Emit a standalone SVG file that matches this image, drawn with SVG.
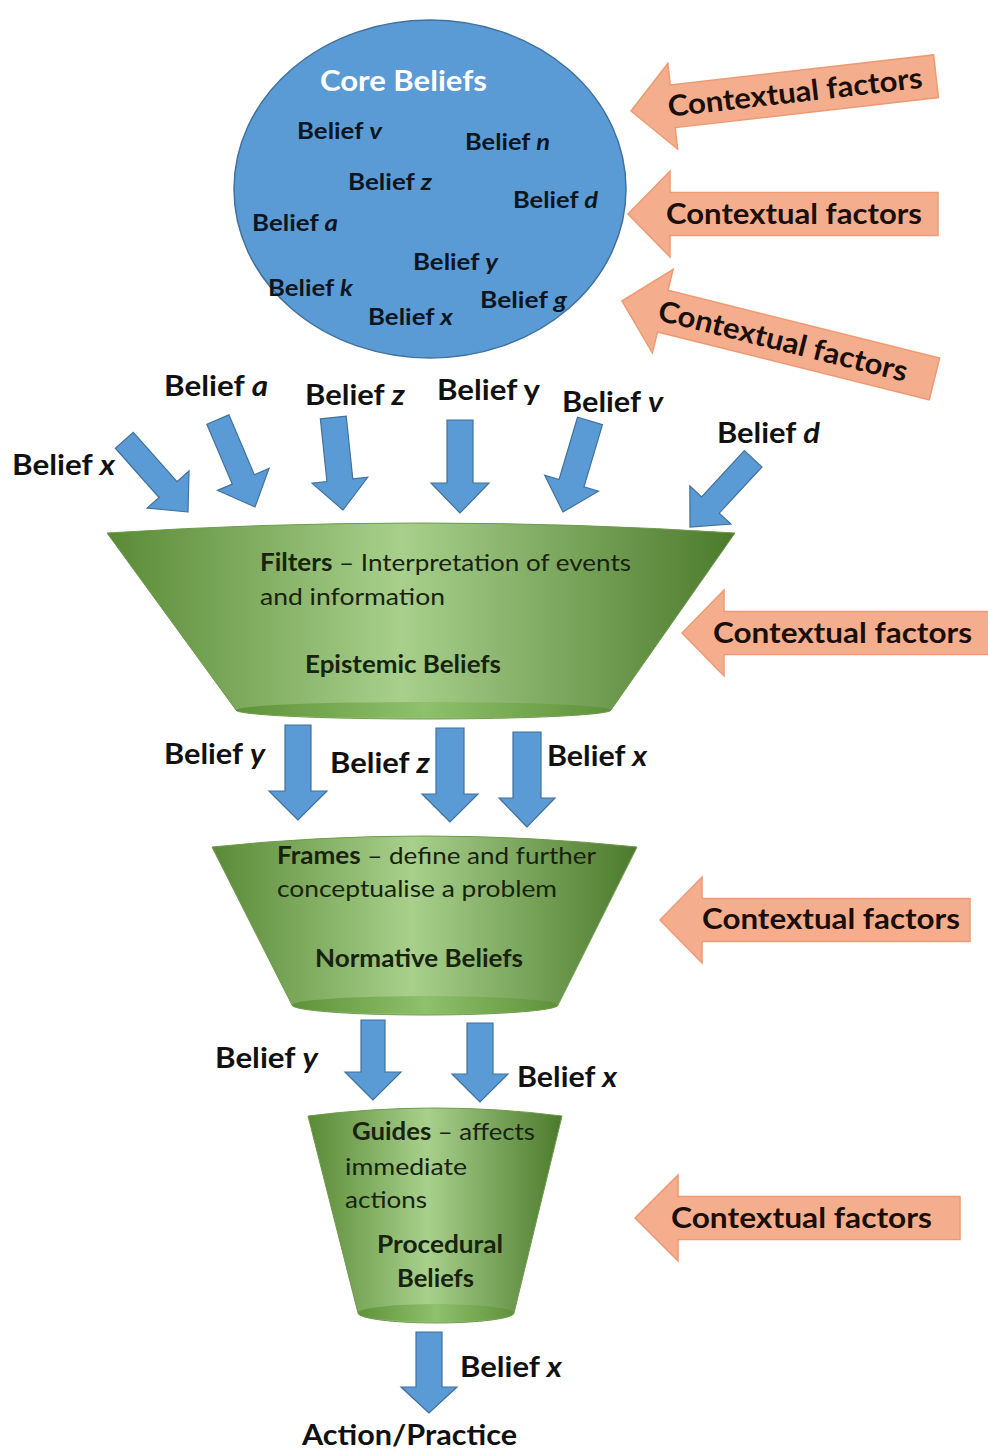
<svg xmlns="http://www.w3.org/2000/svg" width="988" height="1450" viewBox="0 0 988 1450">
<style>
text{font-family:Lato,"Open Sans","Liberation Sans",sans-serif;fill:#111;}
.cb{font-size:23px;font-weight:bold;fill:#0d1620;}
.ol{font-size:28px;font-weight:bold;}
.cf{font-size:29px;font-weight:bold;fill:#1a0f0a;}
.ft{font-size:24px;fill:#18230f;}
.b{font-weight:bold;}
.i{font-style:italic;}
.ba{fill:#5B9BD5;stroke:#41719C;stroke-width:1.2;stroke-linejoin:miter;}
.ca{fill:#F5AE8D;stroke:#EE9A73;stroke-width:1.5;}
.fun{fill:url(#g);stroke:#6f9a4c;stroke-width:1;}
.bot{fill:url(#gb);}
</style>
<defs>
<linearGradient id="g" x1="0" y1="0" x2="1" y2="0">
<stop offset="0" stop-color="#5A8A36"/>
<stop offset="0.47" stop-color="#A8D08C"/>
<stop offset="1" stop-color="#4C7A2C"/>
</linearGradient>
<linearGradient id="gb" x1="0" y1="0" x2="1" y2="0">
<stop offset="0" stop-color="#5E9239"/>
<stop offset="0.5" stop-color="#8FC06C"/>
<stop offset="1" stop-color="#5E9239"/>
</linearGradient>
</defs>
<rect width="988" height="1450" fill="#fff"/>

<g id="core-beliefs">
<ellipse cx="430" cy="189" rx="196" ry="169" fill="#5B9BD5" stroke="#41719C" stroke-width="1.5"/>
<text x="320" y="91" textLength="167" lengthAdjust="spacingAndGlyphs" style="font-size:28px;font-weight:bold;fill:#fff">Core Beliefs</text>
<text class="cb" x="297" y="139" textLength="85" lengthAdjust="spacingAndGlyphs">Belief <tspan class="i">v</tspan></text>
<text class="cb" x="465" y="150" textLength="85" lengthAdjust="spacingAndGlyphs">Belief <tspan class="i">n</tspan></text>
<text class="cb" x="348" y="190" textLength="84" lengthAdjust="spacingAndGlyphs">Belief <tspan class="i">z</tspan></text>
<text class="cb" x="513" y="208" textLength="85" lengthAdjust="spacingAndGlyphs">Belief <tspan class="i">d</tspan></text>
<text class="cb" x="252" y="231" textLength="86" lengthAdjust="spacingAndGlyphs">Belief <tspan class="i">a</tspan></text>
<text class="cb" x="413" y="270" textLength="85" lengthAdjust="spacingAndGlyphs">Belief <tspan class="i">y</tspan></text>
<text class="cb" x="268" y="296" textLength="85" lengthAdjust="spacingAndGlyphs">Belief <tspan class="i">k</tspan></text>
<text class="cb" x="480" y="308" textLength="87" lengthAdjust="spacingAndGlyphs">Belief <tspan class="i">g</tspan></text>
<text class="cb" x="368" y="325" textLength="85" lengthAdjust="spacingAndGlyphs">Belief <tspan class="i">x</tspan></text>
</g>

<g id="filters">
<path class="fun" d="M107,533 Q421,513 735,533 L611,710 A187.5,9 0 0 1 236,710 Z"/>
<ellipse class="bot" cx="423.5" cy="710" rx="187.5" ry="8"/>
<text class="ft" x="260" y="571" textLength="371" lengthAdjust="spacingAndGlyphs"><tspan class="b">Filters</tspan> – Interpretation of events</text>
<text class="ft" x="260" y="605" textLength="185" lengthAdjust="spacingAndGlyphs">and information</text>
<text class="ft b" x="305" y="673" textLength="196" lengthAdjust="spacingAndGlyphs">Epistemic Beliefs</text>
</g>

<g id="frames">
<path class="fun" d="M212,847 Q424.5,825 637,847 L558,1005 A133,10 0 0 1 292,1005 Z"/>
<ellipse class="bot" cx="425" cy="1005" rx="133" ry="9"/>
<text class="ft" x="277" y="864" textLength="319" lengthAdjust="spacingAndGlyphs"><tspan class="b">Frames</tspan> – define and further</text>
<text class="ft" x="277" y="897" textLength="280" lengthAdjust="spacingAndGlyphs">conceptualise a problem</text>
<text class="ft b" x="315" y="967" textLength="208" lengthAdjust="spacingAndGlyphs">Normative Beliefs</text>
</g>

<g id="guides">
<path class="fun" d="M308,1116 Q435,1100 562,1116 L514,1313 A78,10 0 0 1 358,1313 Z"/>
<ellipse class="bot" cx="436" cy="1313" rx="78" ry="9"/>
<text class="ft" x="352" y="1140" textLength="183" lengthAdjust="spacingAndGlyphs"><tspan class="b">Guides</tspan> – affects</text>
<text class="ft" x="345" y="1175" textLength="122" lengthAdjust="spacingAndGlyphs">immediate</text>
<text class="ft" x="345" y="1208" textLength="82" lengthAdjust="spacingAndGlyphs">actions</text>
<text class="ft b" x="377" y="1253" textLength="126" lengthAdjust="spacingAndGlyphs">Procedural</text>
<text class="ft b" x="397" y="1287" textLength="77" lengthAdjust="spacingAndGlyphs">Beliefs</text>
</g>

<g id="action-practice">
<text class="ol" x="302" y="1445" textLength="215" lengthAdjust="spacingAndGlyphs">Action/Practice</text>
</g>

<g id="contextual-factors">
<g transform="translate(631,111) rotate(-6.5)">
<path class="ca" d="M0,0 L42,-43 L42,-21.5 L307,-21.5 L307,21.5 L42,21.5 L42,43 Z"/>
<text class="cf" x="37" y="10" textLength="256" lengthAdjust="spacingAndGlyphs">Contextual factors</text>
</g>
<g transform="translate(628,214)">
<path class="ca" d="M0,0 L42,-43 L42,-21.5 L310,-21.5 L310,21.5 L42,21.5 L42,43 Z"/>
<text class="cf" x="38" y="10" textLength="256" lengthAdjust="spacingAndGlyphs">Contextual factors</text>
</g>
<g transform="translate(622,301) rotate(14)">
<path class="ca" d="M0,0 L42,-43 L42,-21.5 L322,-21.5 L322,21.5 L42,21.5 L42,43 Z"/>
<text class="cf" x="38" y="10" textLength="256" lengthAdjust="spacingAndGlyphs">Contextual factors</text>
</g>
<g transform="translate(682,633)">
<path class="ca" d="M0,0 L42,-43 L42,-21.5 L308,-21.5 L308,21.5 L42,21.5 L42,43 Z"/>
<text class="cf" x="31" y="10" textLength="259" lengthAdjust="spacingAndGlyphs">Contextual factors</text>
</g>
<g transform="translate(660,920)">
<path class="ca" d="M0,0 L42,-43 L42,-21.5 L310,-21.5 L310,21.5 L42,21.5 L42,43 Z"/>
<text class="cf" x="42" y="9" textLength="258" lengthAdjust="spacingAndGlyphs">Contextual factors</text>
</g>
<g transform="translate(635,1218)">
<path class="ca" d="M0,0 L43,-43 L43,-21.5 L325,-21.5 L325,21.5 L43,21.5 L43,43 Z"/>
<text class="cf" x="36" y="10" textLength="261" lengthAdjust="spacingAndGlyphs">Contextual factors</text>
</g>
</g>

<g id="connectors">
<path class="ba" transform="translate(188,512) rotate(-41.6)" d="M0,0 L-28,-30 L-12,-30 L-12,-96 L12,-96 L12,-30 L28,-30 Z"/>
<path class="ba" transform="translate(255,507) rotate(-23)" d="M0,0 L-28,-30 L-12,-30 L-12,-95 L12,-95 L12,-30 L28,-30 Z"/>
<path class="ba" transform="translate(343,510) rotate(-6)" d="M0,0 L-28,-30 L-13,-30 L-13,-93 L13,-93 L13,-30 L28,-30 Z"/>
<path class="ba" transform="translate(460,513)" d="M0,0 L-29,-30 L-13,-30 L-13,-93 L13,-93 L13,-30 L29,-30 Z"/>
<path class="ba" transform="translate(563,512) rotate(16.5)" d="M0,0 L-28,-30 L-13,-30 L-13,-95 L13,-95 L13,-30 L28,-30 Z"/>
<path class="ba" transform="translate(690,527) rotate(42.8)" d="M0,0 L-28,-30 L-12,-30 L-12,-93 L12,-93 L12,-30 L28,-30 Z"/>

<path class="ba" transform="translate(298,820)" d="M0,0 L-29,-29 L-13,-29 L-13,-95 L13,-95 L13,-29 L29,-29 Z"/>
<path class="ba" transform="translate(450,822)" d="M0,0 L-28,-28 L-14,-28 L-14,-94 L14,-94 L14,-28 L28,-28 Z"/>
<path class="ba" transform="translate(527,827)" d="M0,0 L-28,-29 L-14,-29 L-14,-95 L14,-95 L14,-29 L28,-29 Z"/>

<path class="ba" transform="translate(373,1100)" d="M0,0 L-28,-28 L-12,-28 L-12,-80 L12,-80 L12,-28 L28,-28 Z"/>
<path class="ba" transform="translate(480,1102)" d="M0,0 L-28,-28 L-13,-28 L-13,-79 L13,-79 L13,-28 L28,-28 Z"/>

<path class="ba" transform="translate(429,1413)" d="M0,0 L-28,-26 L-13,-26 L-13,-81 L13,-81 L13,-26 L28,-26 Z"/>
</g>

<g id="belief-labels">
<text class="ol" x="12" y="475" textLength="103" lengthAdjust="spacingAndGlyphs">Belief <tspan class="i">x</tspan></text>
<text class="ol" x="164" y="396" textLength="104" lengthAdjust="spacingAndGlyphs">Belief <tspan class="i">a</tspan></text>
<text class="ol" x="305" y="405" textLength="100" lengthAdjust="spacingAndGlyphs">Belief <tspan class="i">z</tspan></text>
<text class="ol" x="437" y="400" textLength="103" lengthAdjust="spacingAndGlyphs">Belief y</text>
<text class="ol" x="562" y="412" textLength="101" lengthAdjust="spacingAndGlyphs">Belief <tspan class="i">v</tspan></text>
<text class="ol" x="717" y="443" textLength="103" lengthAdjust="spacingAndGlyphs">Belief <tspan class="i">d</tspan></text>
<text class="ol" x="164" y="764" textLength="101" lengthAdjust="spacingAndGlyphs">Belief <tspan class="i">y</tspan></text>
<text class="ol" x="330" y="773" textLength="100" lengthAdjust="spacingAndGlyphs">Belief <tspan class="i">z</tspan></text>
<text class="ol" x="547" y="766" textLength="100" lengthAdjust="spacingAndGlyphs">Belief <tspan class="i">x</tspan></text>
<text class="ol" x="215" y="1068" textLength="103" lengthAdjust="spacingAndGlyphs">Belief <tspan class="i">y</tspan></text>
<text class="ol" x="517" y="1087" textLength="100" lengthAdjust="spacingAndGlyphs">Belief <tspan class="i">x</tspan></text>
<text class="ol" x="460" y="1377" textLength="102" lengthAdjust="spacingAndGlyphs">Belief <tspan class="i">x</tspan></text>
</g>
</svg>
